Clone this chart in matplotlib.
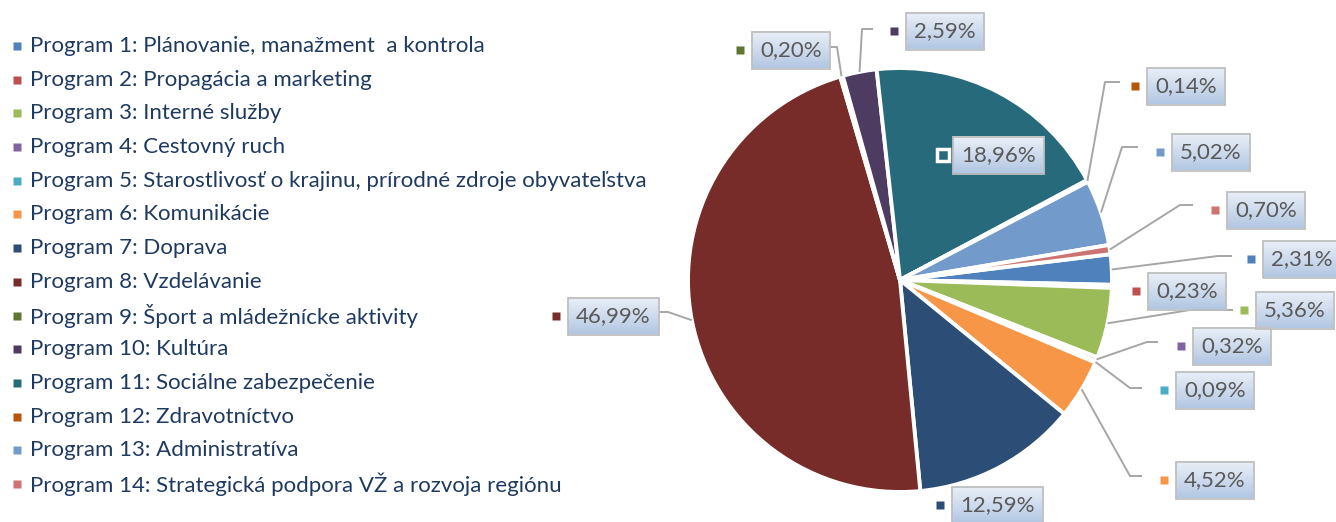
import matplotlib
matplotlib.use('Agg')
import numpy as np
import matplotlib.pyplot as plt
from matplotlib.patches import Rectangle

# data
programs = [
    'Program 1: Plánovanie, manažment  a kontrola',
    'Program 2: Propagácia a marketing',
    'Program 3: Interné služby',
    'Program 4: Cestovný ruch',
    'Program 5: Starostlivosť o krajinu, prírodné zdroje obyvateľstva',
    'Program 6: Komunikácie',
    'Program 7: Doprava',
    'Program 8: Vzdelávanie',
    'Program 9: Šport a mládežnícke aktivity',
    'Program 10: Kultúra',
    'Program 11: Sociálne zabezpečenie',
    'Program 12: Zdravotníctvo',
    'Program 13: Administratíva',
    'Program 14: Strategická podpora VŽ a rozvoja regiónu',
]
shares = [2.31, 0.23, 5.36, 0.32, 0.09, 4.52, 12.59, 46.99, 0.20, 2.59, 18.96, 0.14, 5.02, 0.70]
pct_labels = ['2,31%', '0,23%', '5,36%', '0,32%', '0,09%', '4,52%', '12,59%',
              '46,99%', '0,20%', '2,59%', '18,96%', '0,14%', '5,02%', '0,70%']

colors = ['#4F81BD', '#C0504D', '#9BBB59', '#8064A2', '#4BACC6', '#F79646', '#2C4D75',
          '#772C2A', '#5F7530', '#4D3B62', '#276A7C', '#B65708', '#729ACA', '#CD7371']

# layout (pixels from top-left)
W, H = 1336, 522
box_left = [1263, 1148, 1256, 1193, 1176, 1176, 952, 568, 752, 906, 953, 1147, 1172, 1227]
box_cy = [259, 291, 310, 346, 390, 480, 505, 316, 50, 31, 155, 86, 152, 210]
# leader: (attach x, elbow x, y) or None
leaders = [(1232, 1218, 256), None, (1233, 1190, 310), (1158, 1147, 342), (1142, 1130, 388),
           (1142, 1130, 476), None, (657, 668, 312), (827, 837, 47), (873, 862, 29), None,
           (1120, 1105, 82), (1138, 1122, 147), (1193, 1180, 205)]

FONT = 'Lato'

fig = plt.figure(figsize=(W / 100, H / 100), dpi=100)
ax = fig.add_axes([0, 0, 1, 1])

cx, cy, r = 900, H - 280, 212
wedges, _ = ax.pie(shares, colors=colors, startangle=7, counterclock=False,
                   center=(cx, cy), radius=r,
                   wedgeprops=dict(edgecolor='white', linewidth=2.8))
ax.set_xlim(0, W)
ax.set_ylim(0, H)
ax.set_aspect('equal')
ax.axis('off')

# legend
for i, name in enumerate(programs):
    y = H - (46 + i * 33.69)
    ax.plot(16.7, y, marker='s', ms=5.8, color=colors[i], mec='none')
    ax.text(30, y, name, fontsize=16, color='#1F3A60', va='center', ha='left', family=FONT)

renderer = fig.canvas.get_renderer()
grad = np.linspace(0, 1, 64).reshape(-1, 1)
top = np.array([0.92, 0.94, 0.97])
bot = np.array([0.70, 0.78, 0.89])
grad_img = (top * (1 - grad) + bot * grad).reshape(64, 1, 3)

for i, w in enumerate(wedges):
    yc = H - box_cy[i]
    t = ax.text(0, yc, pct_labels[i], fontsize=16, color='#595959', va='center',
                ha='center', family=FONT, zorder=6)
    bb = t.get_window_extent(renderer)
    bw = bb.width + 16
    bh = 37
    x0 = box_left[i]
    t.set_x(x0 + bw / 2)
    ax.imshow(grad_img, extent=(x0, x0 + bw, yc - bh / 2, yc + bh / 2), aspect='auto',
              interpolation='bilinear', zorder=4)
    ax.add_patch(Rectangle((x0, yc - bh / 2), bw, bh, fill=False, edgecolor='#BFBFBF',
                           linewidth=1.3, zorder=5))
    if i == 10:
        ax.plot(x0 - 10, yc, marker='s', ms=8.3, color=colors[i], mec='white', mew=2.5, zorder=6)
    else:
        ax.plot(x0 - 12, yc, marker='s', ms=6.3, color=colors[i], mec='none', zorder=6)

    ld = leaders[i]
    if ld is not None:
        mid = np.deg2rad((w.theta1 + w.theta2) / 2)
        ex, ey = cx + r * np.cos(mid), cy + r * np.sin(mid)
        ax.plot([ld[0], ld[1], ex], [H - ld[2], H - ld[2], ey], color='#A6A6A6', lw=1.4,
                zorder=3, solid_capstyle='butt')

ax.set_xlim(0, W)
ax.set_ylim(0, H)
fig.savefig('out.png', dpi=100)
